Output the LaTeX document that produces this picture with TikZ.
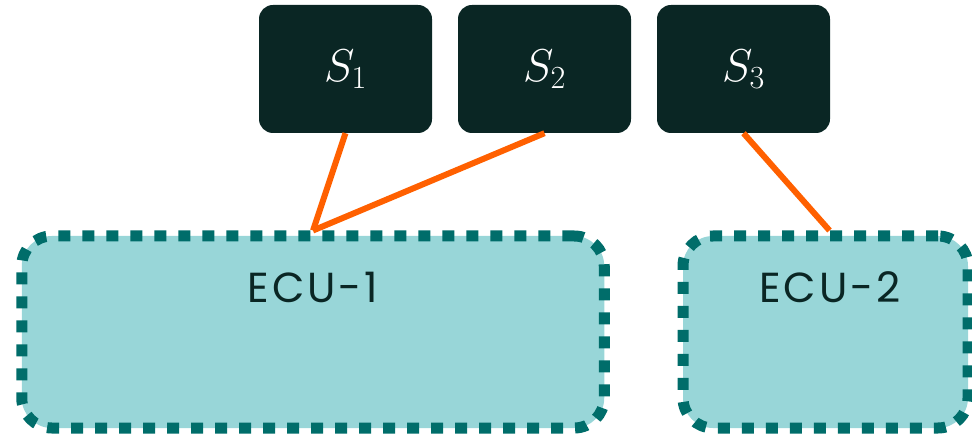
\RequirePackage{fix-cm}
\documentclass[tikz,border=0pt]{standalone}
\usepackage{fontspec}
\newfontfamily\ecufont{Poppins}[LetterSpace=7]
\definecolor{sbox}{HTML}{0A2624}
\definecolor{ecufill}{HTML}{98D6D8}
\definecolor{eculine}{HTML}{006D6A}
\definecolor{link}{HTML}{FF6000}
\begin{document}
\begin{tikzpicture}[x=1pt,y=-1pt,
  sensor/.style={rectangle, fill=sbox, rounded corners=14pt, minimum width=173pt, minimum height=128pt, inner sep=0pt, text=white, font=\fontsize{46}{50}\selectfont},
  ecu/.style={rectangle, fill=ecufill, draw=eculine, line width=11pt, dash pattern=on 12pt off 12pt, rounded corners=30pt, inner sep=0pt},
  ecutext/.style={text=sbox, font=\ecufont\fontsize{42}{46}\selectfont, inner sep=0pt},
  wire/.style={draw=link, line width=6pt}]
\useasboundingbox (0,0) rectangle (972,438);
\node[sensor] (s1) at (345.5,69) {$S_1$};
\node[sensor] (s2) at (544.5,69) {$S_2$};
\node[sensor] (s3) at (743.5,69) {$S_3$};
\node[ecu, minimum width=582.5pt, minimum height=192pt] (ecu1) at (313,332) {};
\node[ecu, minimum width=285pt, minimum height=192pt] (ecu2) at (825.5,332) {};
\node[ecutext] (t1) at (313,287) {ECU-1};
\node[ecutext] (t2) at (830,287) {ECU-2};
\draw[wire] (s1.south) -- (ecu1.north);
\draw[wire] (s2.south) -- (ecu1.north);
\draw[wire] (s3.south) -- ([xshift=4pt]ecu2.north);
\end{tikzpicture}
\end{document}
